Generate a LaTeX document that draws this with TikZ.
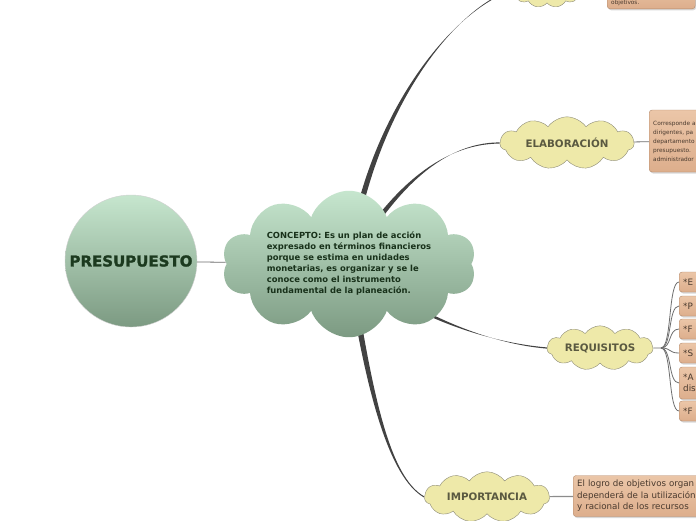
\documentclass[tikz,border=0pt]{standalone}
\usepackage{fontspec}
\setmainfont{DejaVu Sans}
\newfontfamily\titlefont{DejaVu Sans}[BoldFeatures={FakeBold=1.6}]
\usetikzlibrary{backgrounds,calc,shadows,shapes.symbols}
\definecolor{RootTop}{HTML}{C6E6CE}
\definecolor{RootBottom}{HTML}{7C9A82}
\definecolor{RootInk}{HTML}{1C3A1F}
\definecolor{BranchInk}{HTML}{424242}
\definecolor{TopicFill}{HTML}{EEE9A9}
\definecolor{TopicEdge}{HTML}{8E8C78}
\definecolor{TopicInk}{HTML}{5A5940}
\definecolor{NoteTop}{HTML}{EBC6A8}
\definecolor{NoteBottom}{HTML}{DDAE8C}
\definecolor{NoteEdge}{HTML}{B48A6C}
\definecolor{NoteInk}{HTML}{4A3A2E}
\definecolor{LinkGray}{HTML}{6E6E6E}
\tikzset{
  mmRoot/.style={circle,draw=black!18,top color=RootTop,bottom color=RootBottom,
    minimum size=132pt,inner sep=0pt,text=RootInk,
    font=\titlefont\bfseries\fontsize{15}{16}\selectfont},
  mmConcept/.style={cloud,cloud puffs=10,cloud puff arc=140,aspect=2.3,top color=RootTop,bottom color=RootBottom,
    minimum width=254pt,minimum height=110pt,inner sep=0pt,align=left,
    text=RootInk!85!black,font=\bfseries\fontsize{8.4}{11}\selectfont},
  mmTopic/.style={cloud,cloud puffs=11,cloud puff arc=110,aspect=3.2,draw=TopicEdge,thin,fill=TopicFill,
    inner sep=0pt,text=TopicInk,font=\bfseries\fontsize{10.3}{11}\selectfont},
  mmNote/.style={rectangle,rounded corners=3pt,draw=NoteEdge,top color=NoteTop,bottom color=NoteBottom,
    drop shadow={opacity=.3,shadow xshift=1pt,shadow yshift=-1.5pt},
    anchor=west,align=left,text=NoteInk,inner xsep=4pt},
  mmBranch/.style={fill=BranchInk},
  mmLink/.style={draw=LinkGray,line width=.8pt}
}
% tapered main branch: start, end, first control, second control, half width at start
\newcommand\mmbranch[5]{%
  \fill[mmBranch] ($(#1)+(#5)$) .. controls +(#3) and +(#4) .. ($(#2)+(0,-.6)$)
    -- ($(#2)+(0,.6)$) .. controls +(#4) and +(#3) .. ($(#1)-(#5)$) -- cycle;}

\begin{document}
\begin{tikzpicture}[x=1pt,y=-1pt]
  \useasboundingbox (0,0) rectangle (696,520);
  \clip (0,0) rectangle (696,520);
  \node[mmRoot] (root) at (131,261) {PRESUPUESTO};
  \node[mmConcept] (concept) at (349,264) {CONCEPTO: Es un plan de acción\\expresado en términos financieros\\porque se estima en unidades\\monetarias, es organizar y se le\\conoce como el instrumento\\fundamental de la planeación.};
  \node[mmTopic,minimum width=70pt,minimum height=35pt] (topcloud) at (547,-10) {};
  \node[mmNote,anchor=south west,text height=20pt,text width=80pt,font=\fontsize{5.8}{8}\selectfont] (topnote) at (607,9) {objetivos.};
  \node[mmTopic,minimum width=134pt,minimum height=42pt] (elab) at (567,143) {ELABORACIÓN};
  \node[mmNote,minimum height=62pt,text width=80pt,font=\fontsize{5.8}{9}\selectfont] (elabnote) at (649,141)
    {Corresponde a\\dirigentes, pa\\departamento\\presupuesto.\\administrador};
  \node[mmTopic,minimum width=106pt,minimum height=35pt] (req) at (600,348) {REQUISITOS};
  \node[mmTopic,minimum width=125pt,minimum height=35pt] (imp) at (487,497) {IMPORTANCIA};
  \node[mmNote,minimum height=41pt,text width=140pt,font=\fontsize{8.7}{11.5}\selectfont] (impnote) at (573,496)
    {El logro de objetivos organ\\dependerá de la utilización\\y racional de los recursos};
  % requisitos
  \node[mmNote,minimum height=20pt,text width=40pt,font=\fontsize{8.8}{10}\selectfont] (r1) at (679,282) {*E};
  \node[mmNote,minimum height=20pt,text width=40pt,font=\fontsize{8.8}{10}\selectfont] (r2) at (679,306) {*P};
  \node[mmNote,minimum height=20pt,text width=40pt,font=\fontsize{8.8}{10}\selectfont] (r3) at (679,329) {*F};
  \node[mmNote,minimum height=20pt,text width=40pt,font=\fontsize{8.8}{10}\selectfont] (r4) at (679,353) {*S};
  \node[mmNote,minimum height=32pt,text width=40pt,font=\fontsize{8.8}{11}\selectfont] (r5) at (679,383) {*A\\dis};
  \node[mmNote,minimum height=20pt,text width=40pt,font=\fontsize{8.8}{10}\selectfont] (r6) at (679,411) {*F};
  \coordinate (reqhub) at (661,348);

  \draw[mmLink] (root) -- (concept);
  \draw[mmLink] (elab) -- (elabnote);
  \draw[mmLink,line width=1.2pt,draw=black!45] (imp) -- (impnote);
  \draw[mmLink] (req.east) -- (reqhub);
  \foreach \n in {1,...,6}
    \draw[mmLink] (reqhub) .. controls +(11,0) and +(-11,0) .. (r\n.west);

  \begin{scope}[on background layer]
    \fill[white] (0,0) rectangle (696,520);
    \mmbranch{concept.center}{topcloud.west}{20,-150}{-60,20}{3,0}
    \mmbranch{concept.center}{elab.west}{40,-70}{-60,0}{2.4,1.4}
    \mmbranch{concept.center}{req.west}{60,50}{-60,-5}{-1.6,2}
    \mmbranch{concept.center}{imp.west}{20,130}{-35,-20}{3,-.4}
  \end{scope}
\end{tikzpicture}
\end{document}
